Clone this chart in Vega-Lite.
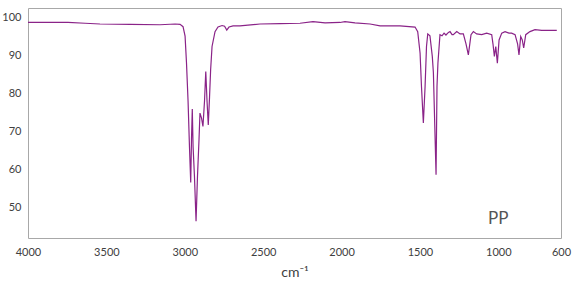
{
  "$schema": "https://vega.github.io/schema/vega-lite/v6.json",
  "width": 533,
  "height": 230,
  "autosize": {"type": "none"},
  "padding": {"left": 28, "top": 8, "right": 15, "bottom": 49},
  "background": "white",
  "config": {
    "view": {"stroke": "#a8a8a8", "strokeWidth": 1},
    "font": "Lato"
  },
  "datasets": {
    "spectrum": [
      {"w": 4000, "v": 98.6}, {"w": 3860, "v": 98.6}, {"w": 3745, "v": 98.6}, {"w": 3636, "v": 98.4},
      {"w": 3541, "v": 98.2}, {"w": 3349, "v": 98.1}, {"w": 3158, "v": 98.0}, {"w": 3062, "v": 98.2},
      {"w": 3030, "v": 98.1}, {"w": 3011, "v": 97.5}, {"w": 2998, "v": 95}, {"w": 2989, "v": 88},
      {"w": 2979, "v": 78}, {"w": 2970, "v": 66}, {"w": 2962, "v": 56.6}, {"w": 2957, "v": 68},
      {"w": 2952, "v": 75.9}, {"w": 2947, "v": 66}, {"w": 2938, "v": 58}, {"w": 2928, "v": 46.4},
      {"w": 2919, "v": 58}, {"w": 2909, "v": 68}, {"w": 2903, "v": 74.8}, {"w": 2893, "v": 73.5},
      {"w": 2884, "v": 71.3}, {"w": 2874, "v": 78}, {"w": 2866, "v": 85.7}, {"w": 2858, "v": 78},
      {"w": 2850, "v": 71.7}, {"w": 2842, "v": 79}, {"w": 2835, "v": 86.2}, {"w": 2826, "v": 92.3},
      {"w": 2807, "v": 96.2}, {"w": 2788, "v": 97.4}, {"w": 2762, "v": 97.8}, {"w": 2746, "v": 97.6},
      {"w": 2732, "v": 96.6}, {"w": 2718, "v": 97.4}, {"w": 2692, "v": 97.7}, {"w": 2648, "v": 97.7},
      {"w": 2520, "v": 98.2}, {"w": 2392, "v": 98.3}, {"w": 2265, "v": 98.4}, {"w": 2182, "v": 98.8},
      {"w": 2105, "v": 98.5}, {"w": 2010, "v": 98.6}, {"w": 1978, "v": 98.8}, {"w": 1914, "v": 98.5},
      {"w": 1818, "v": 98.2}, {"w": 1754, "v": 97.7}, {"w": 1627, "v": 97.7}, {"w": 1531, "v": 97.4},
      {"w": 1514, "v": 96.2}, {"w": 1499, "v": 90.6}, {"w": 1490, "v": 81.8}, {"w": 1478, "v": 72.2},
      {"w": 1467, "v": 81.8}, {"w": 1458, "v": 92.3}, {"w": 1450, "v": 95.6}, {"w": 1436, "v": 95.1},
      {"w": 1421, "v": 89.7}, {"w": 1414, "v": 85.4}, {"w": 1397, "v": 58.6}, {"w": 1391, "v": 81.8},
      {"w": 1385, "v": 88}, {"w": 1372, "v": 95.4}, {"w": 1359, "v": 95.1}, {"w": 1346, "v": 95.8},
      {"w": 1334, "v": 95.3}, {"w": 1318, "v": 96.0}, {"w": 1308, "v": 96.2}, {"w": 1295, "v": 95.4},
      {"w": 1287, "v": 95.4}, {"w": 1265, "v": 96.2}, {"w": 1244, "v": 95.6}, {"w": 1223, "v": 95.6},
      {"w": 1206, "v": 93}, {"w": 1191, "v": 90.1}, {"w": 1180, "v": 93.5}, {"w": 1174, "v": 95.4},
      {"w": 1159, "v": 96.2}, {"w": 1138, "v": 95.6}, {"w": 1106, "v": 95.4}, {"w": 1074, "v": 95.8},
      {"w": 1042, "v": 95.4}, {"w": 1034, "v": 93}, {"w": 1025, "v": 89.7}, {"w": 1016, "v": 92.3},
      {"w": 1006, "v": 87.9}, {"w": 995, "v": 94.0}, {"w": 978, "v": 95.8}, {"w": 957, "v": 96.2},
      {"w": 932, "v": 95.8}, {"w": 915, "v": 95.8}, {"w": 893, "v": 95.4}, {"w": 877, "v": 93},
      {"w": 868, "v": 90.1}, {"w": 857, "v": 94.9}, {"w": 847, "v": 94.0}, {"w": 838, "v": 91.9},
      {"w": 825, "v": 95.4}, {"w": 798, "v": 96.2}, {"w": 766, "v": 96.7}, {"w": 723, "v": 96.5},
      {"w": 627, "v": 96.5}
    ],
    "labels": [
      {"w": 1000, "v": 47, "label": "PP"}
    ]
  },
  "layer": [
    {
      "data": {"name": "spectrum"},
      "mark": {"type": "line", "color": "#8a2388", "strokeWidth": 1.2, "clip": true},
      "encoding": {
        "x": {
          "field": "w",
          "type": "quantitative",
          "scale": {"domain": [600, 4000], "reverse": true, "nice": false, "zero": false},
          "axis": {
            "values": [4000, 3500, 3000, 2500, 2000, 1500, 1000, 600],
            "format": "d",
            "title": "cm⁻¹",
            "titleFont": "Lato",
            "titleFontSize": 14,
            "titleFontWeight": "normal",
            "titleColor": "#404040",
            "titlePadding": 8,
            "labelFont": "Lato",
            "labelFontSize": 11,
            "labelColor": "#404040",
            "labelPadding": 8,
            "ticks": false,
            "domain": false,
            "grid": false,
            "labelOverlap": false,
            "labelFlush": false
          }
        },
        "y": {
          "field": "v",
          "type": "quantitative",
          "scale": {"domain": [42, 102.4], "nice": false, "zero": false},
          "axis": {
            "values": [50, 60, 70, 80, 90, 100],
            "format": "d",
            "title": null,
            "labelFont": "Lato",
            "labelFontSize": 11,
            "labelColor": "#404040",
            "labelPadding": 7,
            "ticks": false,
            "domain": false,
            "grid": false
          }
        }
      }
    },
    {
      "data": {"name": "labels"},
      "mark": {"type": "text", "fontSize": 17, "color": "#555555", "font": "Lato", "align": "center", "baseline": "middle"},
      "encoding": {
        "x": {"field": "w", "type": "quantitative"},
        "y": {"field": "v", "type": "quantitative"},
        "text": {"field": "label"}
      }
    }
  ]
}
